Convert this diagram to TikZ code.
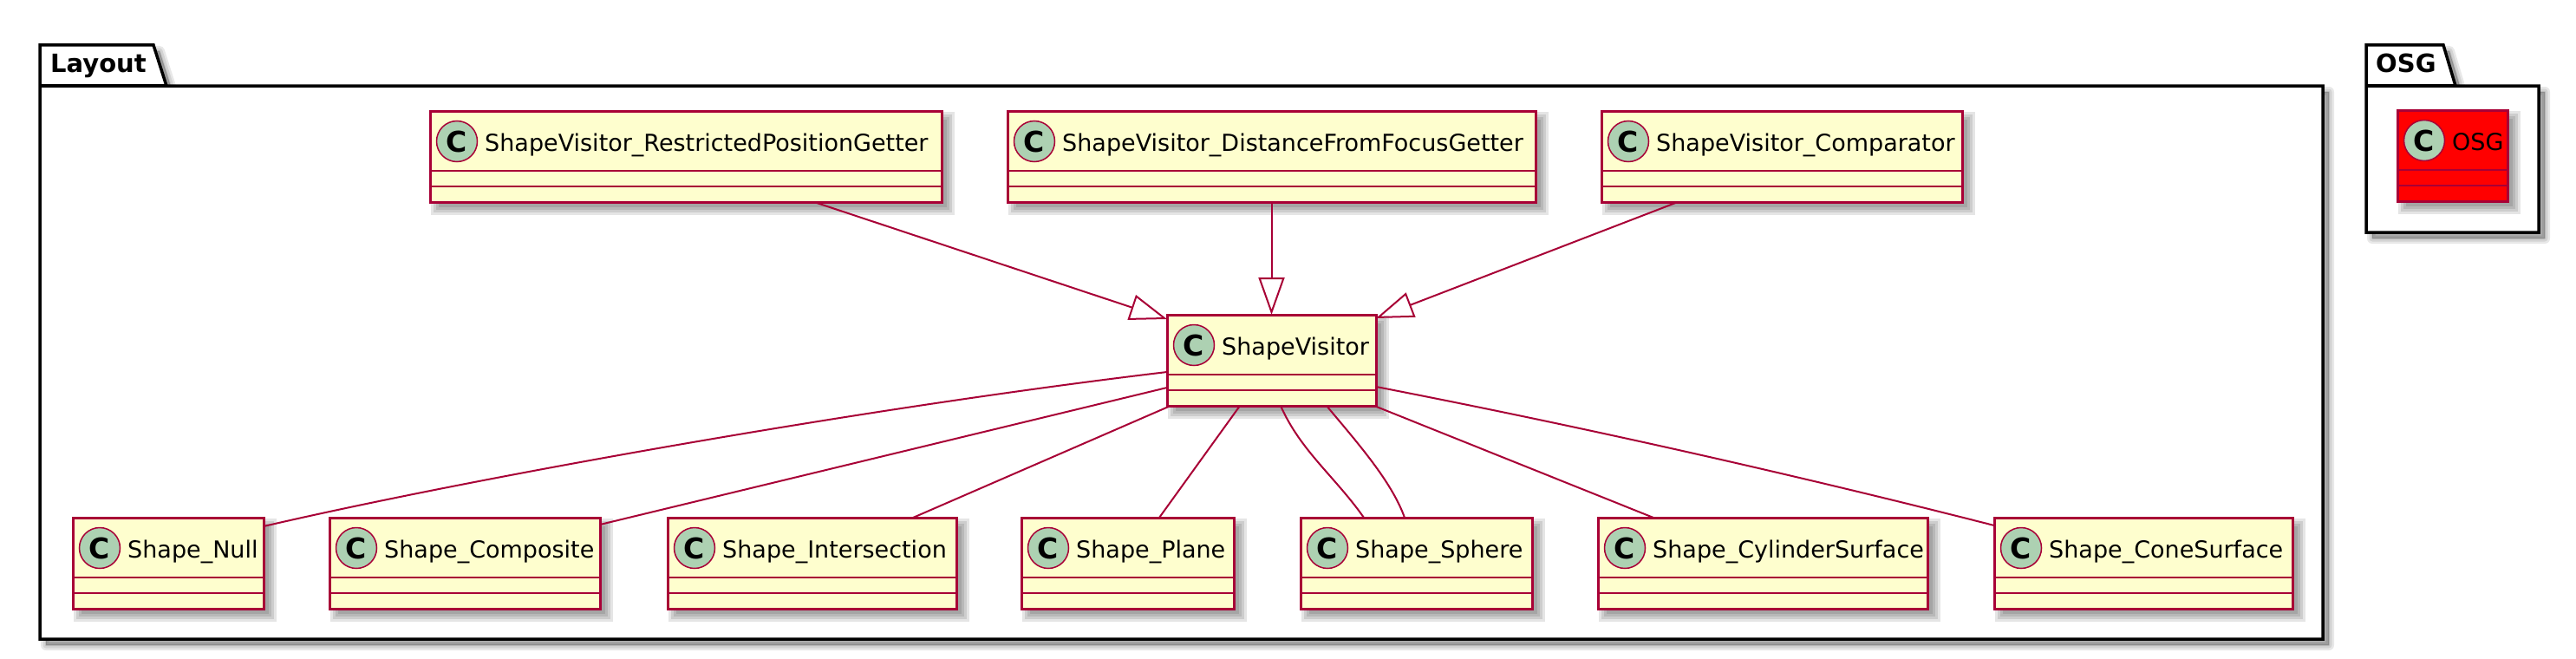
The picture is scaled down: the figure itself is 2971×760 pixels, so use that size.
\documentclass[tikz,border=0pt]{standalone}
\usepackage{fontspec}
\setmainfont{DejaVu Sans}
\usetikzlibrary{arrows.meta}
\definecolor{clsfill}{HTML}{FEFECE}
\definecolor{clsline}{HTML}{A80036}
\definecolor{circfill}{HTML}{ADD1B2}
\definecolor{osgred}{HTML}{FF0000}
\tikzset{
  clsbox/.style={draw=clsline, line width=3pt, inner sep=0pt, outer sep=0pt},
  sepline/.style={draw=clsline, line width=2.5pt},
  circ/.style={circle, draw=clsline, fill=circfill, line width=1.5pt, minimum size=47pt, inner sep=0pt,
    font=\fontsize{33}{36}\selectfont\bfseries},
  clstext/.style={inner sep=0pt, font=\fontsize{27}{32}\selectfont},
  pkgtitle/.style={inner sep=0pt, font=\fontsize{29}{34}\selectfont\bfseries},
  pkgline/.style={draw=black, fill=white, line width=3.5pt, line join=miter},
  conn/.style={draw=clsline, line width=2pt},
  inherit/.style={conn, -{Triangle[open,length=43pt,width=30pt]}},
}
\newcommand\softshadow[4]{%
  \foreach \a/\b in {10/6,7/9,4/12,1/15}{%
    \fill[black,opacity=0.1] (#1+\a,#2+\a) rectangle (#3+\b,#4+\b);}%
}
\newcommand\umlcls[6]{%
  \pgfmathsetmacro\ucx{(#2+#4)/2}%
  \pgfmathsetmacro\ucw{#4-#2}%
  \pgfmathsetmacro\ucy{#3+52.5}%
  \softshadow{#2}{#3}{#4}{#3+105}%
  \node[clsbox, fill=#6, minimum width=\ucw pt, minimum height=105pt] (#1) at (\ucx,\ucy) {};
  \draw[sepline] ([yshift=-69pt]#1.north west) -- ([yshift=-69pt]#1.north east);
  \draw[sepline] ([yshift=-87pt]#1.north west) -- ([yshift=-87pt]#1.north east);
  \node[circ] (#1c) at ([xshift=31pt,yshift=-35pt]#1.north west) {C};
  \node[clstext, anchor=base west] (#1t) at ([xshift=63pt,yshift=-46pt]#1.north west) {#5};
}
\begin{document}
\begin{tikzpicture}[x=1pt,y=-1pt]
\useasboundingbox (0,0) rectangle (2971,760);
\fill[white] (0,0) rectangle (2971,760);

% package shadows
\foreach \w in {12,7,2}{%
  \path[fill=black, draw=black, opacity=0.09, line width=\w pt, line join=round, shift={(7,7)}]
    (46,99) -- (46,52) -- (177,52) -- (192,99) -- (2679,99) -- (2679,737) -- (46,737) -- cycle;
  \path[fill=black, draw=black, opacity=0.09, line width=\w pt, line join=round, shift={(7,7)}]
    (2729,99) -- (2729,52) -- (2818,52) -- (2832,99) -- (2928,99) -- (2928,268) -- (2729,268) -- cycle;
}
% packages
\path[pkgline] (46,99) -- (46,52) -- (177,52) -- (192,99) -- (2679,99) -- (2679,737) -- (46,737) -- cycle;
\draw[black, line width=3.5pt] (46,99) -- (192,99);
\node[pkgtitle, anchor=base west] (layouttitle) at (58,83) {Layout};
\path[pkgline] (2729,99) -- (2729,52) -- (2818,52) -- (2832,99) -- (2928,99) -- (2928,268) -- (2729,268) -- cycle;
\draw[black, line width=3.5pt] (2729,99) -- (2832,99);
\node[pkgtitle, anchor=base west] (osgtitle) at (2740,83) {OSG};

% classes
\umlcls{rpg}{496}{128}{1086}{ShapeVisitor\_RestrictedPositionGetter}{clsfill}
\umlcls{dfg}{1162}{128}{1771}{ShapeVisitor\_DistanceFromFocusGetter}{clsfill}
\umlcls{cmp}{1847}{128}{2263}{ShapeVisitor\_Comparator}{clsfill}
\umlcls{sv}{1346}{363}{1587}{ShapeVisitor}{clsfill}
\umlcls{snull}{84}{597}{304}{Shape\_Null}{clsfill}
\umlcls{comp}{380}{597}{692}{Shape\_Composite}{clsfill}
\umlcls{inter}{770}{597}{1103}{Shape\_Intersection}{clsfill}
\umlcls{plane}{1178}{597}{1423}{Shape\_Plane}{clsfill}
\umlcls{sphere}{1500}{597}{1767}{Shape\_Sphere}{clsfill}
\umlcls{cyl}{1843}{597}{2223}{Shape\_CylinderSurface}{clsfill}
\umlcls{cone}{2300}{597}{2644}{Shape\_ConeSurface}{clsfill}
\umlcls{osg}{2765}{127}{2892}{OSG}{osgred}

% inheritance
\draw[inherit] ([xshift=148pt]rpg.south) -- ([yshift=-5pt]sv.north west);
\draw[inherit] (dfg.south) -- (sv.north);
\draw[inherit] ([xshift=-120pt]cmp.south) -- ([yshift=-4pt]sv.north east);

% associations
\draw[conn] ([yshift=-13.5pt]sv.west) .. controls +(-346,41) and +(246,-57) .. ([yshift=-10pt]snull.north east);
\draw[conn] ([yshift=-31.5pt]sv.west) -- ([yshift=-8pt]comp.north east);
\draw[conn] ([xshift=4pt]sv.south west) -- ([xshift=116.5pt]inter.north);
\draw[conn] ([xshift=-36.5pt]sv.south) -- ([xshift=36.5pt]plane.north);
\draw[conn] ([xshift=10.5pt]sv.south) .. controls +(23,52) and +(-33,-47) .. ([xshift=-60.5pt]sphere.north);
\draw[conn] ([xshift=63.5pt]sv.south) .. controls +(35,42) and +(-15,-42) .. ([xshift=-13.5pt]sphere.north);
\draw[conn] ([xshift=-2pt]sv.south east) -- ([xshift=-126pt]cyl.north);
\draw[conn] ([yshift=-30.5pt]sv.east) .. controls +(263,51) and +(-200,-51) .. ([yshift=-9pt]cone.north west);
\end{tikzpicture}
\end{document}
